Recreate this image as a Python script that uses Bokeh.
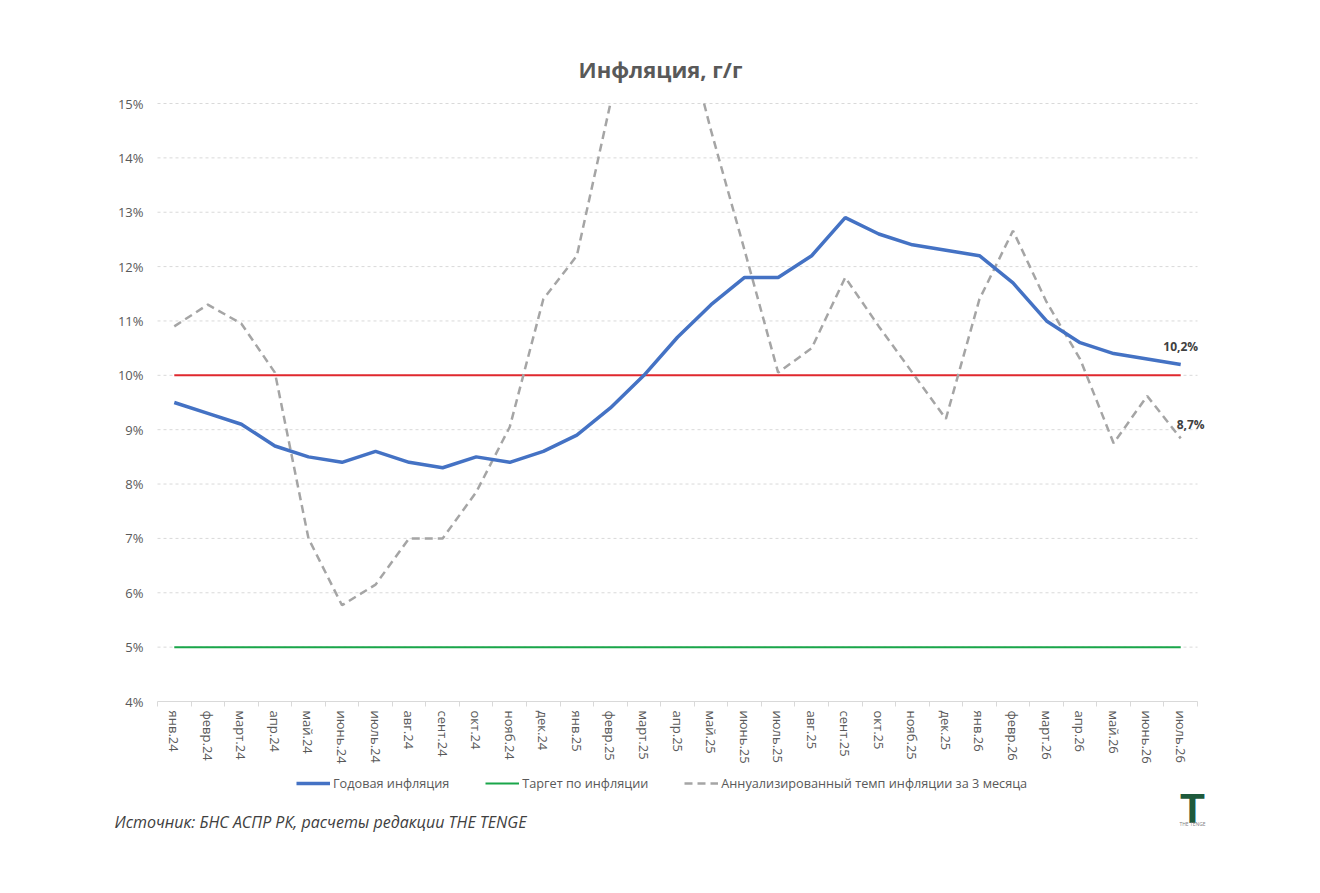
from bokeh.plotting import figure
from bokeh.models import FixedTicker, Range1d, Legend, LegendItem, Label
from bokeh.embed import file_html
from bokeh.resources import INLINE
import math

# ---------------- data ----------------
months = ["янв.24", "февр.24", "март.24", "апр.24", "май.24", "июнь.24", "июль.24",
          "авг.24", "сент.24", "окт.24", "нояб.24", "дек.24",
          "янв.25", "февр.25", "март.25", "апр.25", "май.25", "июнь.25", "июль.25",
          "авг.25", "сент.25", "окт.25", "нояб.25", "дек.25",
          "янв.26", "февр.26", "март.26", "апр.26", "май.26", "июнь.26", "июль.26"]

yoy_inflation = [9.5, 9.3, 9.1, 8.7, 8.5, 8.4, 8.6, 8.4, 8.3, 8.5, 8.4, 8.6,
                 8.9, 9.4, 10.0, 10.7, 11.3, 11.8, 11.8, 12.2, 12.9, 12.6, 12.4, 12.3,
                 12.2, 11.7, 11.0, 10.6, 10.4, 10.3, 10.2]

annualized_3m = [10.9, 11.3, 10.95, 10.05, 7.0, 5.77, 6.15, 7.0, 7.0, 7.85, 9.05, 11.4,
                 12.2, 15.0, 17.2, 16.9, 14.5, 12.3, 10.05, 10.5, 11.8, 10.9, 10.05, 9.2,
                 11.4, 12.66, 11.35, 10.3, 8.75, 9.62, 8.84]

target = [5.0] * 31
upper_level = [10.0] * 31

y_min, y_max = 4, 15
y_ticks = list(range(y_min, y_max + 1))
y_tick_labels = [f"{v}%" for v in y_ticks]

last_labels = ["10,2%", "8,7%"]

title_text = "Инфляция, г/г"
source_text = "Источник: БНС АСПР РК, расчеты редакции THE TENGE"
logo_text = ["T", "THE TENGE"]
legend_names = ["Годовая инфляция", "Таргет по инфляции",
                "Аннуализированный темп инфляции за 3 месяца"]

# ---------------- layout (pixels on the canvas) ----------------
W, H = 1304, 877
LEFT, RIGHT = 157, 1197     # category area
TOP, BOTTOM = 103, 701      # 15% and 4% lines

TXT = "#595959"
FONT = "Open Sans"

n = len(months)
x = list(range(n))
ppx = (RIGHT - LEFT) / n                 # pixels per category
ppy = (BOTTOM - TOP) / (y_max - y_min)   # pixels per percent
x0 = -0.5 - LEFT / ppx
x1 = -0.5 + (W - LEFT) / ppx
ytop = y_max + TOP / ppy
ybot = y_min - (H - BOTTOM) / ppy

p = figure(width=W, height=H, output_backend="svg", toolbar_location=None,
           x_range=Range1d(x0, x1), y_range=Range1d(ybot, ytop),
           min_border=0, background_fill_color="white",
           border_fill_color="white", outline_line_color=None)

# x axis drawn at 4%
p.xaxis.fixed_location = y_min
p.xaxis.bounds = (-0.5, n - 0.5)
p.xaxis.ticker = FixedTicker(ticks=x, minor_ticks=[i - 0.5 for i in range(n + 1)])
p.xaxis.major_label_overrides = {i: m for i, m in enumerate(months)}
p.xaxis.major_label_orientation = -math.pi / 2
p.xaxis.major_tick_line_color = None
p.xaxis.major_tick_in = 0
p.xaxis.major_tick_out = 0
p.xaxis.minor_tick_line_color = "#d9d9d9"
p.xaxis.minor_tick_in = 0
p.xaxis.minor_tick_out = 5
p.xaxis.axis_line_color = "#d9d9d9"
p.xaxis.major_label_text_font = FONT
p.xaxis.major_label_text_font_size = "13px"
p.xaxis.major_label_text_color = TXT
p.xaxis.major_label_standoff = 4

# y axis drawn at the left edge of the category area
p.yaxis.fixed_location = -0.5
p.yaxis.bounds = (y_min, y_max)
p.yaxis.ticker = FixedTicker(ticks=y_ticks)
p.yaxis.major_label_overrides = {v: l for v, l in zip(y_ticks, y_tick_labels)}
p.yaxis.axis_line_color = None
p.yaxis.major_tick_line_color = None
p.yaxis.major_tick_in = 0
p.yaxis.major_tick_out = 0
p.yaxis.minor_tick_line_color = None
p.yaxis.major_label_text_font = FONT
p.yaxis.major_label_text_font_size = "13px"
p.yaxis.major_label_text_color = TXT
p.yaxis.major_label_standoff = 14

# horizontal grid lines limited to the plot area
p.xgrid.grid_line_color = None
p.ygrid.grid_line_color = None
grid_y = y_ticks[1:]
p.segment(x0=[-0.5] * len(grid_y), x1=[n - 0.5] * len(grid_y), y0=grid_y, y1=grid_y,
          line_color="#d9d9d9", line_width=1, line_dash="3 3")


def clip_top(xs, ys, ymax):
    """Cut a polyline at the axis maximum (as the plot area does)."""
    ox, oy = [], []
    for i in range(len(xs)):
        if i > 0:
            ya, yb = ys[i - 1], ys[i]
            if (ya - ymax) * (yb - ymax) < 0:
                xc = xs[i - 1] + (ymax - ya) / (yb - ya) * (xs[i] - xs[i - 1])
                ox.append(xc)
                oy.append(ymax)
                if yb > ymax:
                    ox.append(float("nan"))
                    oy.append(float("nan"))
        if ys[i] <= ymax:
            ox.append(xs[i])
            oy.append(ys[i])
        elif not (oy and oy[-1] != oy[-1]):
            ox.append(float("nan"))
            oy.append(float("nan"))
    return ox, oy


ann_x, ann_y = clip_top(x, annualized_3m, y_max)

# series
r_target = p.line(x, target, line_color="#1aa64a", line_width=2)
r_upper = p.line(x, upper_level, line_color="#e0282e", line_width=2)
r_ann = p.line(ann_x, ann_y, line_color="#a5a5a5", line_width=2.5, line_dash="8 5")
r_yoy = p.line(x, yoy_inflation, line_color="#4472c4", line_width=3.5)

# data labels on last points
p.add_layout(Label(x=x[-1], y=yoy_inflation[-1], text=last_labels[0], text_align="center",
                   text_baseline="bottom", y_offset=9, text_font=FONT,
                   text_font_style="bold", text_font_size="12px", text_color="#404040"))
p.add_layout(Label(x=x[-1], y=annualized_3m[-1], text=last_labels[1], text_align="left",
                   text_baseline="middle", x_offset=-4, y_offset=14, text_font=FONT,
                   text_font_style="bold", text_font_size="12px", text_color="#404040"))

# legend
legend = Legend(items=[LegendItem(label=legend_names[0], renderers=[r_yoy]),
                       LegendItem(label=legend_names[1], renderers=[r_target]),
                       LegendItem(label=legend_names[2], renderers=[r_ann])],
                orientation="horizontal", location=(296, H - 792),
                label_text_font=FONT, label_text_font_size="12.7px",
                label_text_color=TXT, glyph_width=34, glyph_height=14,
                spacing=36, label_standoff=3, padding=0, margin=0,
                border_line_color=None, background_fill_alpha=0)
p.add_layout(legend, "center")

# title, source and logo (screen units, from the bottom-left corner)
p.add_layout(Label(x=660, y=H - 68, x_units="screen", y_units="screen", text=title_text,
                   text_align="center", text_baseline="alphabetic", text_font=FONT,
                   text_font_style="bold", text_font_size="22px", text_color=TXT))
p.add_layout(Label(x=114, y=H - 821, x_units="screen", y_units="screen", text=source_text,
                   text_align="left", text_baseline="alphabetic", text_font=FONT,
                   text_font_style="italic", text_font_size="16px", text_color="#404040"))
p.add_layout(Label(x=1192, y=H - 808, x_units="screen", y_units="screen", text=logo_text[0],
                   text_align="center", text_baseline="alphabetic", text_font="Roboto",
                   text_font_style="bold", text_font_size="41px", text_color="#1e5a3c"))
p.add_layout(Label(x=1192, y=H - 823, x_units="screen", y_units="screen", text=logo_text[1],
                   text_align="center", text_baseline="alphabetic", text_font=FONT,
                   text_font_size="5px", text_color="#7f7f7f"))

open("out.html", "w").write(file_html(p, INLINE))
